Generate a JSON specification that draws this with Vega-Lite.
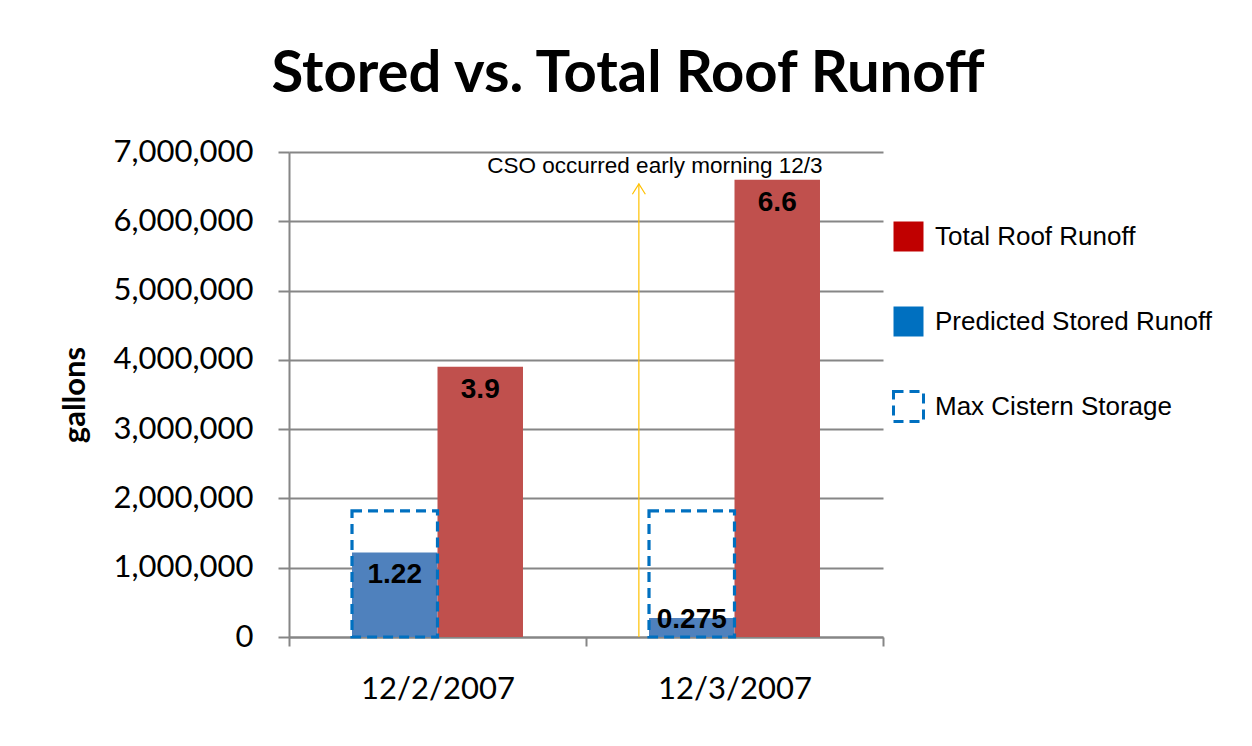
{
  "$schema": "https://vega.github.io/schema/vega-lite/v6.json",
  "width": 594,
  "height": 485,
  "autosize": {"type": "none"},
  "padding": {"left": 289, "top": 152, "right": 369, "bottom": 109},
  "background": "white",
  "title": {
    "text": "Stored vs. Total Roof Runoff",
    "font": "Lato",
    "fontSize": 58,
    "fontWeight": "bold",
    "color": "black",
    "anchor": "middle",
    "frame": "group",
    "dx": 42,
    "offset": -14,
    "baseline": "alphabetic"
  },
  "datasets": {
    "runoff": [
      {"date": "12/2/2007", "series": "Predicted Stored Runoff", "slot": "A", "value": 1220000, "label": "1.22"},
      {"date": "12/2/2007", "series": "Total Roof Runoff", "slot": "B", "value": 3900000, "label": "3.9"},
      {"date": "12/3/2007", "series": "Predicted Stored Runoff", "slot": "A", "value": 275000, "label": "0.275"},
      {"date": "12/3/2007", "series": "Total Roof Runoff", "slot": "B", "value": 6600000, "label": "6.6"},
      {"date": "12/2/2007", "series": "Max Cistern Storage", "slot": "A", "value": 1820000, "label": ""},
      {"date": "12/3/2007", "series": "Max Cistern Storage", "slot": "A", "value": 1820000, "label": ""}
    ],
    "events": [
      {"date": "12/3/2007", "value": 6540000, "top": 7000000, "note": "CSO occurred early morning 12/3"}
    ]
  },
  "layer": [
    {
      "data": {"name": "runoff"},
      "transform": [{"filter": "datum.series !== 'Max Cistern Storage'"}],
      "mark": {"type": "bar"},
      "encoding": {
        "x": {
          "field": "date", "type": "nominal", "title": null,
          "scale": {"paddingInner": 0, "paddingOuter": 0},
          "axis": {
            "labelFont": "Lato", "labelFontSize": 31, "labelColor": "black", "labelAngle": 0,
            "tickBand": "extent", "tickSize": 9, "tickColor": "#868686", "tickWidth": 2,
            "domainColor": "#868686", "domainWidth": 2, "labelPadding": 28, "grid": false
          }
        },
        "xOffset": {
          "field": "slot", "type": "nominal",
          "scale": {"domain": ["A", "B"], "paddingInner": 0, "paddingOuter": 0.737}
        },
        "y": {
          "field": "value", "type": "quantitative",
          "scale": {"domain": [0, 7000000], "nice": false},
          "axis": {
            "values": [0, 1000000, 2000000, 3000000, 4000000, 5000000, 6000000, 7000000],
            "format": ",d",
            "labelFont": "Lato", "labelFontSize": 31, "labelColor": "black", "labelPadding": 25,
            "tickSize": 11, "tickColor": "#868686", "tickWidth": 2,
            "domainColor": "#868686", "domainWidth": 2,
            "gridColor": "#868686", "gridWidth": 2,
            "title": "gallons", "titleFont": "Lato", "titleFontSize": 31, "titleFontWeight": "bold",
            "titleColor": "black", "titlePadding": 22
          }
        },
        "fill": {
          "field": "series", "type": "nominal",
          "scale": {
            "domain": ["Total Roof Runoff", "Predicted Stored Runoff"],
            "range": ["#C0504D", "#4F81BD"]
          },
          "legend": null
        }
      }
    },
    {
      "data": {"name": "runoff"},
      "transform": [{"filter": "datum.series === 'Max Cistern Storage'"}],
      "mark": {"type": "bar", "strokeWidth": 3.2},
      "encoding": {
        "x": {"field": "date", "type": "nominal"},
        "xOffset": {"field": "slot", "type": "nominal"},
        "y": {"field": "value", "type": "quantitative"},
        "color": {
          "field": "series", "type": "nominal",
          "scale": {
            "domain": ["Total Roof Runoff", "Predicted Stored Runoff", "Max Cistern Storage"],
            "range": ["#C00000", "#0070C0", "transparent"]
          },
          "legend": {
            "orient": "none", "legendX": 603, "legendY": 68, "title": null,
            "symbolType": "square", "symbolSize": 900, "symbolStrokeWidth": 3,
            "labelFont": "Liberation Sans", "labelFontSize": 26, "labelColor": "black",
            "labelOffset": 10, "rowPadding": 42, "labelLimit": 400
          }
        },
        "stroke": {
          "field": "series", "type": "nominal",
          "scale": {
            "domain": ["Total Roof Runoff", "Predicted Stored Runoff", "Max Cistern Storage"],
            "range": ["transparent", "transparent", "#0070C0"]
          },
          "legend": {"title": null}
        },
        "strokeDash": {
          "field": "series", "type": "nominal",
          "scale": {
            "domain": ["Total Roof Runoff", "Predicted Stored Runoff", "Max Cistern Storage"],
            "range": [[1, 0], [1, 0], [10, 6]]
          },
          "legend": {"title": null}
        }
      }
    },
    {
      "data": {"name": "runoff"},
      "transform": [{"filter": "datum.series !== 'Max Cistern Storage' && datum.value >= 500000"}],
      "mark": {"type": "text", "font": "Liberation Sans", "fontWeight": "bold", "fontSize": 28, "color": "black", "baseline": "top", "dy": 9},
      "encoding": {
        "x": {"field": "date", "type": "nominal"},
        "xOffset": {"field": "slot", "type": "nominal"},
        "y": {"field": "value", "type": "quantitative"},
        "text": {"field": "label"}
      }
    },
    {
      "data": {"name": "runoff"},
      "transform": [{"filter": "datum.series !== 'Max Cistern Storage' && datum.value < 500000"}],
      "mark": {"type": "text", "font": "Liberation Sans", "fontWeight": "bold", "fontSize": 28, "color": "black", "baseline": "middle", "dy": 2},
      "encoding": {
        "x": {"field": "date", "type": "nominal"},
        "xOffset": {"field": "slot", "type": "nominal"},
        "y": {"field": "value", "type": "quantitative"},
        "text": {"field": "label"}
      }
    },
    {
      "data": {"name": "events"},
      "mark": {"type": "rule", "color": "#FFC000", "strokeWidth": 1.2},
      "encoding": {
        "x": {"field": "date", "type": "nominal", "bandPosition": 0.178},
        "y": {"field": "value", "type": "quantitative"},
        "y2": {"datum": 0}
      }
    },
    {
      "data": {"name": "events"},
      "mark": {"type": "point", "shape": "M-1,1.6L0,0L1,1.6", "filled": false, "color": "#FFC000", "strokeWidth": 1.2, "size": 169, "opacity": 1},
      "encoding": {
        "x": {"field": "date", "type": "nominal", "bandPosition": 0.178},
        "y": {"field": "value", "type": "quantitative"}
      }
    },
    {
      "data": {"name": "events"},
      "mark": {"type": "text", "font": "Liberation Sans", "fontSize": 22.5, "color": "black", "baseline": "top", "dy": 3},
      "encoding": {
        "x": {"field": "date", "type": "nominal", "bandPosition": 0.232},
        "y": {"field": "top", "type": "quantitative"},
        "text": {"field": "note"}
      }
    }
  ],
  "config": {
    "view": {"stroke": null}
  }
}
